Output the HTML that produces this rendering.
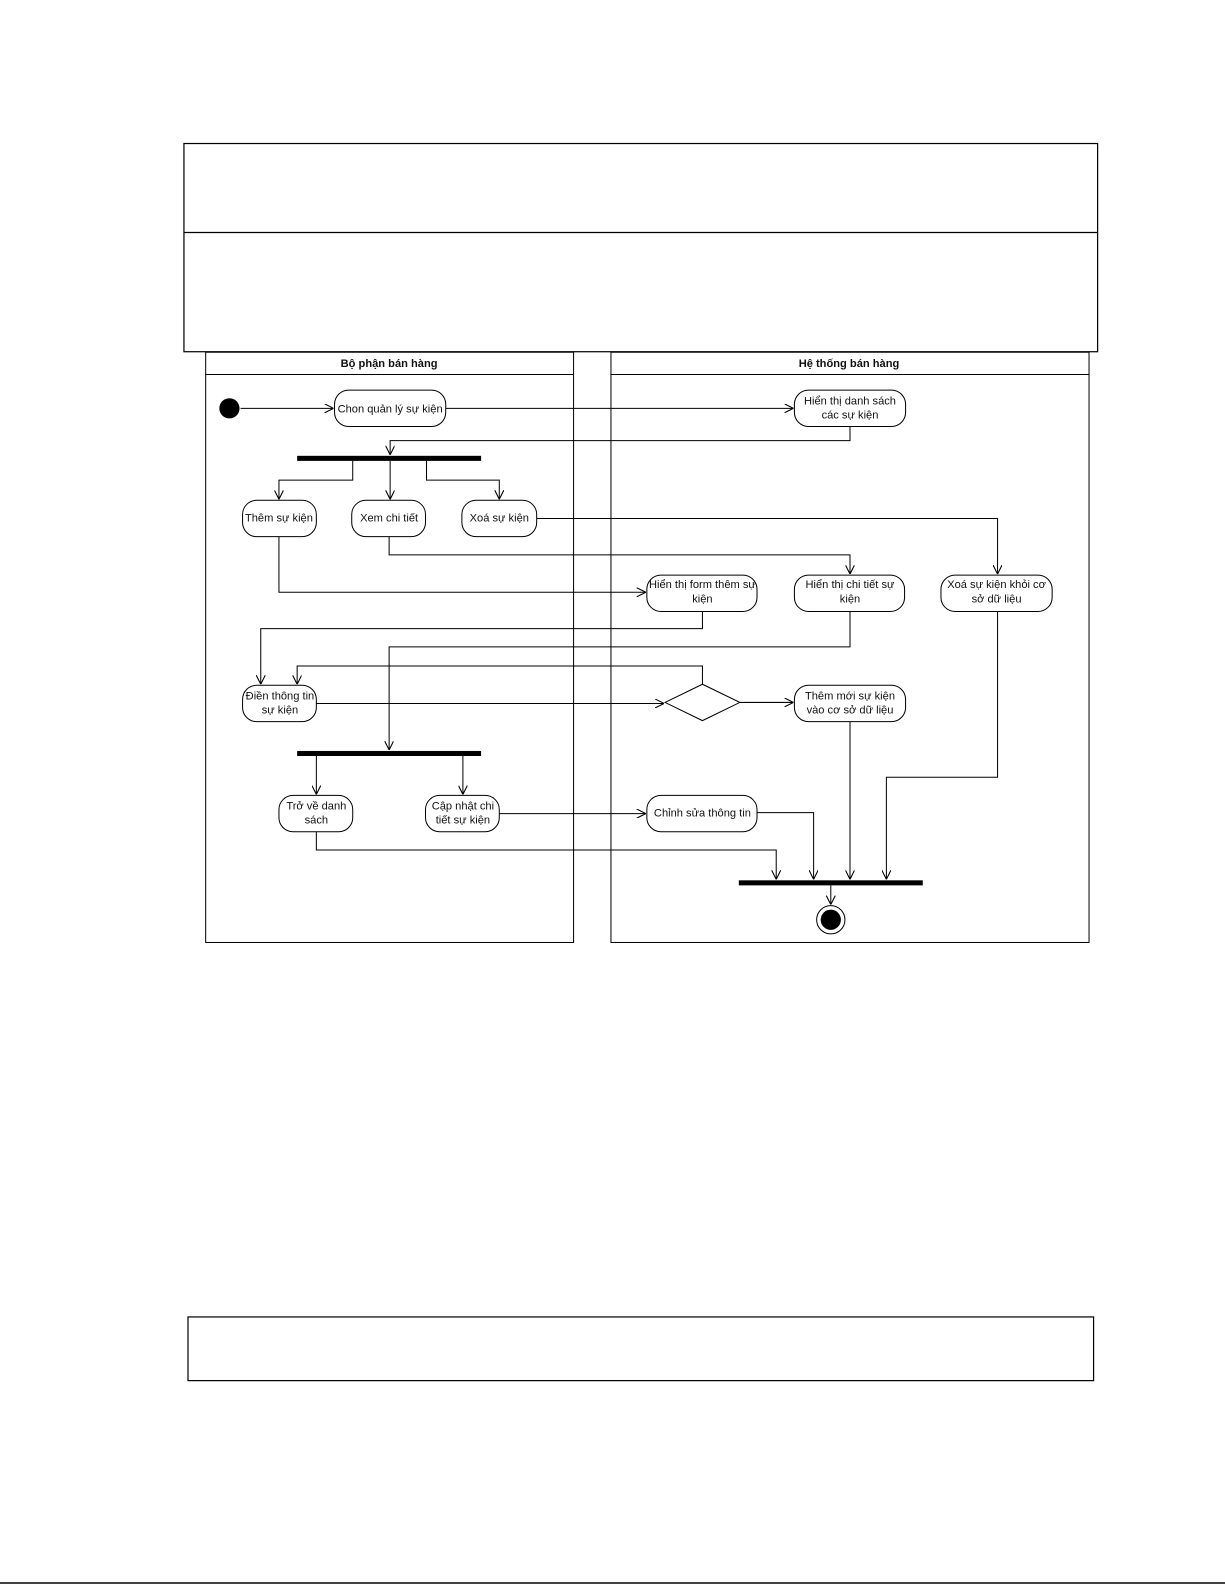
<!DOCTYPE html>
<html><head><meta charset="utf-8"><style>
html,body{margin:0;padding:0;background:#fff}
svg{display:block}
text{font-family:"Liberation Sans",sans-serif;font-size:11px;fill:#111}
</style></head><body>
<svg width="1225" height="1585" viewBox="0 0 1225 1585" xmlns="http://www.w3.org/2000/svg">
<defs>
<marker id="a" viewBox="0 0 10 10" refX="10" refY="5" markerWidth="9" markerHeight="9" orient="auto" markerUnits="userSpaceOnUse">
<path d="M0,0 L10,5 L0,10" fill="none" stroke="#000" stroke-width="1.2"/></marker>
</defs>
<line x1="0" y1="1583" x2="1225" y2="1583" stroke="#000" stroke-width="1.5"/>
<g transform="scale(1.0107)">
<g fill="none" stroke="#000" stroke-width="1.2">
<rect x="182" y="142" width="904" height="206"/>
<line x1="182" y1="230" x2="1086" y2="230"/>
<rect x="186" y="1303" width="896" height="63"/>
</g>
<g fill="none" stroke="#000" stroke-width="1">
<rect x="203.5" y="348.5" width="364" height="584"/>
<line x1="203" y1="370.5" x2="567" y2="370.5"/>
<rect x="604.5" y="348.5" width="473" height="584"/>
<line x1="604" y1="370.5" x2="1077" y2="370.5"/>
</g>
<text x="385" y="363" text-anchor="middle" font-weight="bold">Bộ phận bán hàng</text>
<text x="840" y="363" text-anchor="middle" font-weight="bold">Hệ thống bán hàng</text>

<circle cx="227" cy="404" r="10" fill="#000"/>
<circle cx="822" cy="910" r="14" fill="#fff" stroke="#000"/>
<circle cx="822" cy="910" r="10" fill="#000"/>
<rect x="294" y="451" width="182" height="5" fill="#000"/>
<rect x="294" y="743" width="182" height="5" fill="#000"/>
<rect x="731" y="871" width="182" height="5" fill="#000"/>

<g fill="#fff" stroke="#000" stroke-width="1">
<rect x="331" y="386" width="110" height="36" rx="14"/>
<rect x="786" y="386" width="110" height="36" rx="14"/>
<rect x="240" y="495" width="73" height="36" rx="14"/>
<rect x="348" y="495" width="73" height="36" rx="14"/>
<rect x="457" y="495" width="74" height="36" rx="14"/>
<rect x="640" y="569" width="109" height="36" rx="14"/>
<rect x="786" y="569" width="109" height="36" rx="14"/>
<rect x="931" y="569" width="110" height="36" rx="14"/>
<rect x="240" y="678" width="73" height="36" rx="14"/>
<polygon points="658,695 695,677 732,695 695,713"/>
<rect x="786" y="678" width="110" height="36" rx="14"/>
<rect x="276" y="787" width="73" height="36" rx="14"/>
<rect x="421" y="787" width="73" height="36" rx="14"/>
<rect x="640" y="787" width="109" height="36" rx="14"/>
</g>

<g fill="none" stroke="#000" stroke-width="1" marker-end="url(#a)">
<path d="M238,404 H330"/>
<path d="M441,404 H785"/>
<path d="M841,422 V436 H386 V450"/>
<path d="M349,456 V475 H276 V494"/>
<path d="M386,456 V494"/>
<path d="M422,456 V475 H494 V494"/>
<path d="M531,513 H987 V568"/>
<path d="M385,531 V549 H841 V568"/>
<path d="M276,531 V586 H639"/>
<path d="M695,605 V622 H258 V677"/>
<path d="M841,605 V640 H385 V742"/>
<path d="M695,677 V659 H294 V677"/>
<path d="M313,696 H657"/>
<path d="M732,695 H785"/>
<path d="M841,714 V870"/>
<path d="M987,605 V769 H877 V870"/>
<path d="M313,748 V786"/>
<path d="M458,748 V786"/>
<path d="M494,805 H639"/>
<path d="M749,804 H805 V870"/>
<path d="M313,823 V841 H768 V870"/>
<path d="M822,876 V895"/>
</g>

<g text-anchor="middle">
<text x="386" y="408">Chon quản lý sự kiện</text>
<text x="841" y="400">Hiển thị danh sách</text><text x="841" y="414">các sự kiện</text>
<text x="276" y="516">Thêm sự kiện</text>
<text x="385" y="516">Xem chi tiết</text>
<text x="494" y="516">Xoá sự kiện</text>
<text x="695" y="582">Hiển thị form thêm sự</text><text x="695" y="596">kiện</text>
<text x="841" y="582">Hiển thị chi tiết sự</text><text x="841" y="596">kiện</text>
<text x="986" y="582">Xoá sự kiện khỏi cơ</text><text x="986" y="596">sở dữ liệu</text>
<text x="277" y="692">Điền thông tin</text><text x="277" y="706">sự kiện</text>
<text x="841" y="692">Thêm mới sự kiện</text><text x="841" y="706">vào cơ sở dữ liệu</text>
<text x="313" y="801">Trở về danh</text><text x="313" y="815">sách</text>
<text x="458" y="801">Cập nhật chi</text><text x="458" y="815">tiết sự kiện</text>
<text x="695" y="808">Chỉnh sửa thông tin</text>
</g>
</g>
</svg>
</body></html>
